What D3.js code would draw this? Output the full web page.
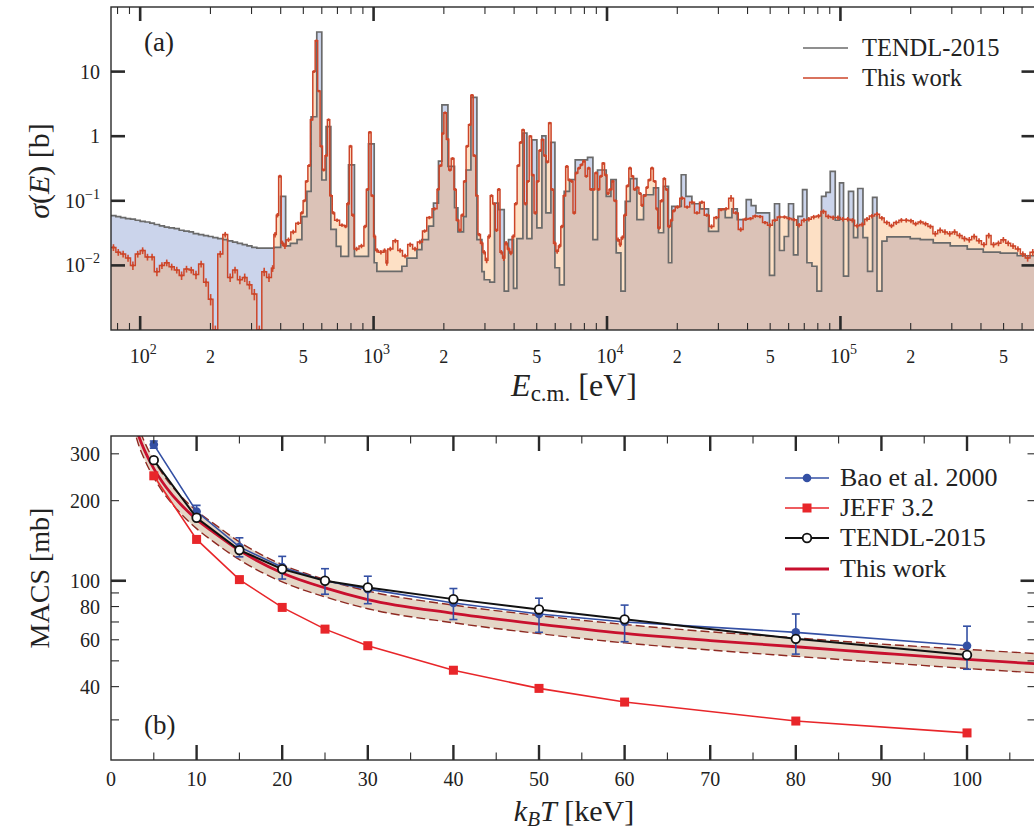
<!DOCTYPE html>
<html><head><meta charset="utf-8">
<script src="https://cdn.jsdelivr.net/npm/d3@7"></script>
<style>
body{margin:0;background:#fff}
svg{display:block}
text{font-family:"Liberation Serif","DejaVu Serif",serif;fill:#222}
</style>
</head><body>
<svg id="c" width="1034" height="831"></svg>
<script>
// ---------------- Panel (a) data: [E_start (eV), sigma (b), rel. uncertainty %] ----------------
const thisWorkSteps = [
[75,0.019,12],[78.7,0.016,12],[82.5,0.015,12],[86.6,0.013,12],[90.9,0.010,15],[95.3,0.015,12],
[100,0.017,12],[105,0.0135,12],[110,0.0135,12],[115,0.008,15],[121,0.010,12],[127,0.011,12],[133,0.0095,12],[140,0.0085,12],[147,0.007,15],[154,0.0088,12],[162,0.0085,12],[169,0.0072,15],[178,0.0105,12],[187,0.0055,15],[196,0.003,20],[205,0.0009,30],[215,0.015,12],[226,0.030,10],[237,0.0065,15],[249,0.0085,12],[261,0.006,15],[274,0.0065,15],[287,0.005,15],[301,0.0036,20],[316,0.0009,30],[332,0.008,15],[348,0.0065,15],[365,0.009,12],[374,0.03,10],[383,0.06,8],[392,0.24,5],[402,0.022,10],[412,0.020,10],[422,0.025,8],[442,0.033,8],[464,0.045,6],[487,0.065,6],[499,0.10,5],[511,0.2,5],[523,0.35,5],[536,1.8,4],[549,10,4],[562,30,4],[576,5,4],[590,0.7,5],[604,0.3,5],[619,0.5,5],[634,1.8,4],[649,0.12,5],[665,0.065,6],[681,0.05,6],[715,0.042,6],[750,0.040,6],[768,0.09,6],[787,0.7,5],[806,0.06,6],[825,0.018,8],[866,0.02,8],[909,0.04,6],[931,0.15,5],[953,1.15,4],[976,0.12,5],
[1000,0.028,8],[1020,0.017,8],[1050,0.016,8],[1100,0.017,8],[1130,0.011,10],[1150,0.018,8],[1210,0.024,8],[1270,0.017,8],[1330,0.014,8],[1400,0.021,8],[1470,0.018,8],[1540,0.023,8],[1620,0.034,6],[1690,0.055,6],[1780,0.075,6],[1870,0.15,5],[1910,0.35,5],[1960,1.1,4],[2000,2.3,4],[2050,0.9,4],[2100,0.3,5],[2150,0.45,5],[2210,0.15,5],[2260,0.05,6],[2320,0.035,6],[2370,0.06,6],[2430,0.2,5],[2490,0.7,5],[2550,1.5,4],[2610,4.3,4],[2670,0.5,5],[2740,0.12,5],[2800,0.03,6],[2870,0.022,8],[2940,0.016,8],[3010,0.012,10],[3090,0.028,8],[3160,0.12,5],[3240,0.09,5],[3320,0.035,6],[3400,0.15,5],[3480,0.016,8],[3570,0.013,10],[3650,0.022,8],[3740,0.018,8],[3830,0.0156,8],[3920,0.028,8],[4020,0.09,6],[4120,0.35,5],[4220,0.8,5],[4320,1.25,4],[4420,0.09,6],[4530,0.2,5],[4640,1.0,4],[4750,0.25,5],[4870,0.065,6],[4990,0.2,5],[5110,0.6,5],[5230,0.88,5],[5360,0.5,5],[5490,0.4,5],[5620,1.6,4],[5760,0.15,5],[5900,0.022,8],[6040,0.0165,8],[6190,0.02,8],[6340,0.04,6],[6490,0.12,5],[6650,0.34,5],[6810,0.21,5],[6980,0.2,5],[7150,0.065,6],[7320,0.27,5],[7500,0.32,5],[7680,0.36,5],[7870,0.41,5],[8060,0.24,5],[8250,0.32,5],[8450,0.15,5],[8660,0.15,5],[8870,0.27,5],[9090,0.15,5],[9310,0.24,5],[9530,0.38,5],[9760,0.25,5],
[10000,0.13,5],[10200,0.15,5],[10500,0.2,5],[10700,0.1,5],[11000,0.025,8],[11300,0.021,8],[11500,0.027,8],[11800,0.06,6],[12100,0.17,5],[12400,0.32,5],[12700,0.24,5],[13000,0.15,5],[13300,0.16,5],[13700,0.13,5],[14000,0.085,6],[14300,0.12,5],[14700,0.16,5],[15000,0.21,5],[15400,0.32,5],[15800,0.2,5],[16200,0.075,6],[16500,0.038,6],[16900,0.1,6],[17400,0.22,5],[17800,0.15,5],[18200,0.04,6],[18700,0.05,6],[19100,0.07,6],
[19600,0.08,6],[20500,0.11,6],[21500,0.08,6],[22600,0.095,6],[23700,0.065,6],[24900,0.095,6],[26100,0.06,6],[27400,0.04,8],[28700,0.055,6],[30100,0.073,6],[31600,0.075,6],[33200,0.11,12],[34800,0.065,6],[36500,0.036,8],[38300,0.052,6],[40200,0.053,6],[42200,0.058,6],[44200,0.057,6],[46400,0.046,6],[48700,0.042,8],[51100,0.05,6],[53600,0.056,6],[56200,0.056,6],[59000,0.053,6],[61900,0.051,6],[64900,0.042,8],[68100,0.05,8],[71500,0.052,8],[75000,0.056,8],[78700,0.058,8],[82500,0.068,8],[86600,0.057,8],[90900,0.055,8],[95300,0.055,8],
[100000,0.052,8],[105000,0.052,8],[110000,0.05,8],[115000,0.041,8],[121000,0.043,8],[127000,0.052,8],[133000,0.058,8],[140000,0.062,8],[147000,0.054,8],[154000,0.046,8],[162000,0.041,8],[169000,0.046,8],[178000,0.05,8],[187000,0.05,8],[196000,0.049,8],[205000,0.044,8],[215000,0.047,8],[226000,0.044,8],[237000,0.04,8],[249000,0.031,10],[261000,0.035,10],[274000,0.033,10],[287000,0.031,10],[301000,0.033,10],[316000,0.029,10],[332000,0.026,10],[348000,0.025,10],[365000,0.028,10],[383000,0.024,10],[402000,0.021,10],[422000,0.029,10],[442000,0.021,10],[464000,0.022,10],[487000,0.025,10],[511000,0.022,10],[536000,0.020,10],[562000,0.018,10],[590000,0.015,10],[619000,0.013,12],[649000,0.016,12]
];
// TENDL-2015: [E_start (eV), sigma (b)]
const tendlSteps = [
[75,0.059],[78.7,0.057],[82.5,0.055],[86.6,0.053],[90.9,0.052],[95.3,0.050],[100,0.048],[105,0.047],[110,0.045],[115,0.043],[121,0.041],[127,0.039],[133,0.038],[140,0.037],[147,0.035],[154,0.034],[162,0.033],[169,0.031],[178,0.030],[187,0.029],[196,0.028],[205,0.027],[215,0.026],[226,0.025],[237,0.024],[249,0.023],[261,0.022],[274,0.021],[287,0.020],[301,0.019],[316,0.0185],[374,0.019],[400,0.117],[420,0.020],[440,0.022],[470,0.025],[493,0.057],[518,0.14],[540,2.0],[571,41],[600,0.21],[626,1.41],[656,0.036],[692,0.0197],[724,0.0138],[781,0.36],[828,0.0138],[951,0.763],[1006,0.011],[1033,0.0081],[1322,0.0097],[1389,0.013],[1533,0.0176],[1610,0.025],[1719,0.0405],[1806,0.092],[1897,0.41],[1962,3.06],[2082,0.34],[2222,0.078],[2297,0.033],[2428,0.057],[2493,0.30],[2612,4.0],[2771,0.025],[2911,0.008],[2978,0.006],[3147,0.0055],[3296,0.092],[3428,0.073],[3628,0.004],[3784,0.025],[3976,0.0044],[4111,0.026],[4362,1.12],[4538,0.026],[4767,0.88],[5007,0.038],[5261,1.01],[5473,0.065],[5750,0.8],[5982,0.0092],[6259,0.005],[6556,0.14],[6908,0.212],[7308,0.43],[8252,0.47],[8701,0.025],[9108,0.30],[9922,0.117],[10392,0.212],[10950,0.0156],[11470,0.004],[11970,0.098],[12570,0.22],[13430,0.051],[14340,0.124],[15820,0.158],[16620,0.032],[17470,0.167],[18340,0.011],[18940,0.082],[20800,0.253],[21780,0.117],[23100,0.09],[25070,0.075],[27220,0.0337],[30040,0.075],[32100,0.055],[34290,0.075],[36140,0.051],[39490,0.104],[41480,0.084],[43450,0.065],[49690,0.007],[52200,0.09],[54830,0.017],[57440,0.028],[59930,0.09],[62950,0.0146],[65760,0.0575],[68820,0.149],[71860,0.011],[75500,0.0097],[79300,0.004],[82990,0.117],[86680,0.135],[90430,0.285],[95000,0.05],[99110,0.189],[103100,0.0068],[108300,0.14],[113800,0.027],[118600,0.155],[124900,0.027],[130700,0.0081],[137300,0.113],[143400,0.004],[150600,0.0237],[158200,0.0276],[199100,0.026],[219800,0.025],[249800,0.0223],[295400,0.020],[349400,0.0178],[409100,0.0161],[483800,0.0155],[572000,0.0141]
];
const energyDomain = [75, 685000];
const sigmaDomain = [1e-3, 1e2];
const xMinorLabelMult = [2, 5];
const yMajorTicksA = [1e-2, 1e-1, 1, 10];
const yLabelsA = [["10","−2"],["10","−1"],["1",""],["10",""]];

// ---------------- Panel (b) data ----------------
const kTPoints = [5, 10, 15, 20, 25, 30, 40, 50, 60, 80, 100];
const macsBao = [325, 182, 134, 112.5, 100, 93, 82.5, 75, 70, 64, 57];
const macsBaoErr = [10, 10, 11, 11, 11, 11, 11, 11, 11, 11, 10.5];
const macsJeff = [248, 143, 101, 79.4, 65.8, 57, 46.1, 39.4, 35, 29.7, 26.8];
const macsTendl = [284, 172.5, 130.4, 110.6, 100, 94.4, 85.3, 78, 71.6, 60.5, 52.6];
const kTCurve = [2, 2.5, 3, 4, 5, 6, 7, 8, 10, 12, 15, 20, 25, 30, 40, 50, 60, 70, 80, 90, 100, 110];
const macsThisWork = [520, 430, 370, 305, 264, 235, 213, 196, 170, 152, 130, 107, 94, 85, 75.4, 68.7, 63.4, 59.6, 56.5, 53.4, 50.6, 48.3];
const macsThisWorkHi = [560, 462, 398, 328, 284, 253, 229, 211, 183, 164, 140, 115, 101, 91.5, 81, 74, 68.5, 64.3, 61, 57.8, 55.2, 52.8];
const macsThisWorkLo = [480, 398, 342, 282, 244, 217, 197, 181, 157, 140, 120, 99, 87, 78.5, 69.5, 63.3, 58.4, 54.9, 52, 49.3, 46.8, 44.7];
const kTDomain = [0, 108];
const macsDomain = [21.2, 350];
const xTicksB = [0,10,20,30,40,50,60,70,80,90,100];
const xMinorTicksB = [5,15,25,35,45,55,65,75,85,95,105];
const yLabelTicksB = [300, 200, 100, 80, 60, 40];
const yMinorTicksB = [30, 40, 50, 60, 70, 80, 90, 200, 300];

// ---------------- Drawing ----------------
const svg = d3.select("#c");
const defs = svg.append("defs");
const frameColor = "#2a2a2a";
const twColor = "#cc4529";

// ===== Panel a =====
const A = {l:111, r:1035.5, t:7, b:330};
const xA = d3.scaleLog().domain(energyDomain).range([A.l, A.r]);
const yA = d3.scaleLog().domain(sigmaDomain).range([A.b, A.t]).clamp(true);
defs.append("clipPath").attr("id","clipA").append("rect")
  .attr("x",A.l).attr("y",A.t).attr("width",A.r-A.l).attr("height",A.b-A.t);
const gA = svg.append("g").attr("clip-path","url(#clipA)");

const eEnd = energyDomain[1];
const closeSteps = s => s.concat([[eEnd, s[s.length-1][1]]]);
const twPts = closeSteps(thisWorkSteps.map(d=>[d[0],d[1]]));
const tdPts = closeSteps(tendlSteps.map(d=>[d[0],d[1]]));

const bis = d3.bisector(d=>d[0]).right;
const valAt = (s,e) => { const i = Math.max(0, bis(s,e)-1); return s[i][1]; };
const edges = Array.from(new Set(thisWorkSteps.map(d=>d[0]).concat(tendlSteps.map(d=>d[0])))).sort((p,q)=>p-q);
const minPts = closeSteps(edges.map(e=>[e, Math.min(valAt(thisWorkSteps,e), valAt(tendlSteps,e))]));

const areaA = d3.area().curve(d3.curveStepAfter).x(d=>xA(d[0])).y0(A.b).y1(d=>yA(d[1]));
const lineA = d3.line().curve(d3.curveStepAfter).x(d=>xA(d[0])).y(d=>yA(d[1]));

gA.append("path").attr("d",areaA(tdPts)).attr("fill","#cbd4eb");
gA.append("path").attr("d",areaA(twPts)).attr("fill","#fde0c5");
gA.append("path").attr("d",areaA(minPts)).attr("fill","#dbc2b7");
gA.append("path").attr("d",lineA(tdPts)).attr("fill","none").attr("stroke","#6a6a6a").attr("stroke-width",1.7);
// error bars
thisWorkSteps.forEach((d,i)=>{
  const e1 = i<thisWorkSteps.length-1 ? thisWorkSteps[i+1][0] : eEnd;
  const xc = (xA(d[0])+xA(e1))/2;
  const ylo = yA(d[1]*(1-d[2]/100)), yhi = yA(d[1]*(1+d[2]/100));
  gA.append("line").attr("x1",xc).attr("x2",xc).attr("y1",ylo).attr("y2",yhi)
    .attr("stroke","#d04a2e").attr("stroke-width",1.6);
  gA.append("circle").attr("cx",xc).attr("cy",yA(d[1])).attr("r",1.3).attr("fill","#d04a2e");
});
gA.append("path").attr("d",lineA(twPts)).attr("fill","none").attr("stroke",twColor).attr("stroke-width",1.5);

function tick(g,x1,y1,x2,y2,w){ g.append("line").attr("x1",x1).attr("y1",y1).attr("x2",x2).attr("y2",y2).attr("stroke",frameColor).attr("stroke-width",w); }
const tA = svg.append("g");
// x ticks a
for (let dec=10; dec<=1e6; dec*=10){
  for (let k=1;k<=9;k++){
    const v=k*dec; if (v<energyDomain[0]||v>energyDomain[1]) continue;
    const x=xA(v); const major=(k===1); const L=major?14:7; const w=major?2.6:1.1;
    tick(tA,x,A.b,x,A.b-L,w); tick(tA,x,A.t,x,A.t+L,w);
    if (major){
      const t=tA.append("text").attr("x",x+3).attr("y",363).attr("text-anchor","middle").attr("font-size",20);
      t.append("tspan").text("10");
      t.append("tspan").attr("dy",-9).attr("font-size",14).text(String(Math.round(Math.log10(v))));
    } else if (xMinorLabelMult.includes(k)){
      tA.append("text").attr("x",x).attr("y",363).attr("text-anchor","middle").attr("font-size",18).text(String(k));
    }
  }
}
// y ticks a
yMajorTicksA.forEach((v,i)=>{
  const y=yA(v);
  tick(tA,A.l,y,A.l+14,y,2.6); tick(tA,A.r,y,A.r-14,y,2.6);
  const t=tA.append("text").attr("x",100).attr("y",y+7).attr("text-anchor","end").attr("font-size",20);
  t.append("tspan").text(yLabelsA[i][0]);
  if (yLabelsA[i][1]) t.append("tspan").attr("dy",-9).attr("font-size",14).text(yLabelsA[i][1]);
});
tA.append("rect").attr("x",A.l).attr("y",A.t).attr("width",A.r-A.l).attr("height",A.b-A.t)
  .attr("fill","none").attr("stroke",frameColor).attr("stroke-width",1.4);

// labels a
svg.append("text").attr("x",144).attr("y",51).attr("font-size",27).text("(a)");
const yl=svg.append("text").attr("transform","translate(49,171) rotate(-90)").attr("text-anchor","middle").attr("font-size",30);
yl.append("tspan").attr("font-style","italic").text("σ");
yl.append("tspan").text("(");
yl.append("tspan").attr("font-style","italic").text("E");
yl.append("tspan").text(") [b]");
const xl=svg.append("text").attr("x",574).attr("y",396).attr("text-anchor","middle").attr("font-size",32);
xl.append("tspan").attr("font-style","italic").text("E");
xl.append("tspan").attr("font-size",23).attr("dy",5).text("c.m.");
xl.append("tspan").attr("dy",-5).text(" [eV]");
// legend a
const legA=svg.append("g");
legA.append("line").attr("x1",803).attr("x2",848).attr("y1",48).attr("y2",48).attr("stroke","#6a6a6a").attr("stroke-width",1.6);
legA.append("text").attr("x",862).attr("y",56).attr("font-size",24.5).text("TENDL-2015");
legA.append("line").attr("x1",803).attr("x2",848).attr("y1",78).attr("y2",78).attr("stroke",twColor).attr("stroke-width",1.6);
legA.append("text").attr("x",862).attr("y",86).attr("font-size",24.5).text("This work");

// ===== Panel b =====
const B = {l:111, r:1035.5, t:436, b:760};
const xB = d3.scaleLinear().domain(kTDomain).range([B.l, B.r]);
const yB = d3.scaleLog().domain(macsDomain).range([B.b, B.t]);
defs.append("clipPath").attr("id","clipB").append("rect")
  .attr("x",B.l).attr("y",B.t).attr("width",B.r-B.l).attr("height",B.b-B.t);
const gB = svg.append("g").attr("clip-path","url(#clipB)");

const band = kTCurve.map((k,i)=>({k, lo:macsThisWorkLo[i], hi:macsThisWorkHi[i], v:macsThisWork[i]}));
gB.append("path").attr("d", d3.area().curve(d3.curveMonotoneX).x(d=>xB(d.k)).y0(d=>yB(d.lo)).y1(d=>yB(d.hi))(band))
  .attr("fill","#e4d6c6");
["lo","hi"].forEach(key=>{
  gB.append("path").attr("d", d3.line().curve(d3.curveMonotoneX).x(d=>xB(d.k)).y(d=>yB(d[key]))(band))
    .attr("fill","none").attr("stroke","#8e2a22").attr("stroke-width",1.4).attr("stroke-dasharray","9,4");
});
gB.append("path").attr("d", d3.line().curve(d3.curveMonotoneX).x(d=>xB(d.k)).y(d=>yB(d.v))(band))
  .attr("fill","none").attr("stroke","#c8102e").attr("stroke-width",2.8);

const lineB = d3.line().x(d=>xB(d[0])).y(d=>yB(d[1]));
const jeff = kTPoints.map((k,i)=>[k,macsJeff[i]]);
const bao = kTPoints.map((k,i)=>[k,macsBao[i],macsBaoErr[i]]);
const tendl = kTPoints.map((k,i)=>[k,macsTendl[i]]);
gB.append("path").attr("d",lineB(jeff)).attr("fill","none").attr("stroke","#e8262a").attr("stroke-width",1.6);
jeff.forEach(d=>gB.append("rect").attr("x",xB(d[0])-4.5).attr("y",yB(d[1])-4.5).attr("width",9).attr("height",9).attr("fill","#e8262a"));
gB.append("path").attr("d",lineB(bao)).attr("fill","none").attr("stroke","#3450a4").attr("stroke-width",1.6);
bao.forEach(d=>{
  const x=xB(d[0]), y1=yB(d[1]-d[2]), y2=yB(d[1]+d[2]);
  gB.append("line").attr("x1",x).attr("x2",x).attr("y1",y1).attr("y2",y2).attr("stroke","#3450a4").attr("stroke-width",1.6);
  [y1,y2].forEach(y=>gB.append("line").attr("x1",x-4).attr("x2",x+4).attr("y1",y).attr("y2",y).attr("stroke","#3450a4").attr("stroke-width",1.6));
  gB.append("circle").attr("cx",x).attr("cy",yB(d[1])).attr("r",4.3).attr("fill","#3450a4");
});
gB.append("path").attr("d",lineB(tendl)).attr("fill","none").attr("stroke","#111").attr("stroke-width",2);
tendl.forEach(d=>gB.append("circle").attr("cx",xB(d[0])).attr("cy",yB(d[1])).attr("r",4.3).attr("fill","#fff").attr("stroke","#111").attr("stroke-width",1.8));

const tB = svg.append("g");
xTicksB.forEach(v=>{
  const x=xB(v);
  if (v>0){ tick(tB,x,B.b,x,B.b-15,2.4); tick(tB,x,B.t,x,B.t+15,2.4); }
  tB.append("text").attr("x",x).attr("y",786).attr("text-anchor","middle").attr("font-size",20).text(String(v));
});
xMinorTicksB.forEach(v=>{ const x=xB(v); tick(tB,x,B.b,x,B.b-7.5,1.1); tick(tB,x,B.t,x,B.t+7.5,1.1); });
tick(tB,B.l,yB(100),B.l+15,yB(100),2.6); tick(tB,B.r,yB(100),B.r-15,yB(100),2.6);
yMinorTicksB.forEach(v=>{ const y=yB(v); tick(tB,B.l,y,B.l+8,y,1.1); tick(tB,B.r,y,B.r-8,y,1.1); });
yLabelTicksB.forEach(v=>{
  tB.append("text").attr("x",100).attr("y",yB(v)+7).attr("text-anchor","end").attr("font-size",20).text(String(v));
});
tB.append("rect").attr("x",B.l).attr("y",B.t).attr("width",B.r-B.l).attr("height",B.b-B.t)
  .attr("fill","none").attr("stroke",frameColor).attr("stroke-width",1.4);

svg.append("text").attr("x",144).attr("y",734).attr("font-size",27).text("(b)");
svg.append("text").attr("transform","translate(49,578) rotate(-90)").attr("text-anchor","middle").attr("font-size",28).text("MACS [mb]");
const xlb=svg.append("text").attr("x",574).attr("y",821).attr("text-anchor","middle").attr("font-size",30);
xlb.append("tspan").attr("font-style","italic").text("k");
xlb.append("tspan").attr("font-style","italic").attr("font-size",21).attr("dy",5).text("B");
xlb.append("tspan").attr("font-style","italic").attr("dy",-5).text("T");
xlb.append("tspan").text(" [keV]");

// legend b
const legB = svg.append("g");
const lgY=[478,508,538,569];
const lgX1=785, lgX2=829, lgXm=807, lgTx=840;
const lgFs=26;
legB.append("line").attr("x1",lgX1).attr("x2",lgX2).attr("y1",lgY[0]).attr("y2",lgY[0]).attr("stroke","#3450a4").attr("stroke-width",1.6);
legB.append("circle").attr("cx",lgXm).attr("cy",lgY[0]).attr("r",4.3).attr("fill","#3450a4");
legB.append("text").attr("x",lgTx).attr("y",lgY[0]+8).attr("font-size",lgFs).text("Bao et al. 2000");
legB.append("line").attr("x1",lgX1).attr("x2",lgX2).attr("y1",lgY[1]).attr("y2",lgY[1]).attr("stroke","#e8262a").attr("stroke-width",1.6);
legB.append("rect").attr("x",lgXm-4.5).attr("y",lgY[1]-4.5).attr("width",9).attr("height",9).attr("fill","#e8262a");
legB.append("text").attr("x",lgTx).attr("y",lgY[1]+8).attr("font-size",lgFs).text("JEFF 3.2");
legB.append("line").attr("x1",lgX1).attr("x2",lgX2).attr("y1",lgY[2]).attr("y2",lgY[2]).attr("stroke","#111").attr("stroke-width",2);
legB.append("circle").attr("cx",lgXm).attr("cy",lgY[2]).attr("r",4.3).attr("fill","#fff").attr("stroke","#111").attr("stroke-width",1.8);
legB.append("text").attr("x",lgTx).attr("y",lgY[2]+8).attr("font-size",lgFs).text("TENDL-2015");
legB.append("line").attr("x1",lgX1).attr("x2",lgX2).attr("y1",lgY[3]).attr("y2",lgY[3]).attr("stroke","#c8102e").attr("stroke-width",2.8);
legB.append("text").attr("x",lgTx).attr("y",lgY[3]+8).attr("font-size",lgFs).text("This work");
</script>
</body></html>
